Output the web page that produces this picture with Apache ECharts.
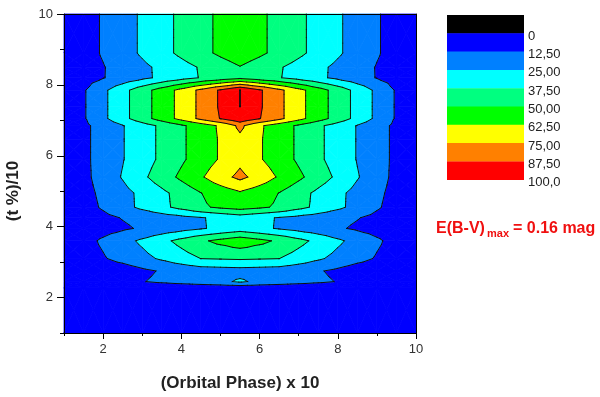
<!DOCTYPE html>
<html>
<head>
<meta charset="utf-8">
<script src="https://cdn.jsdelivr.net/npm/echarts@6/dist/echarts.min.js"></script>
<style>
  html, body { margin: 0; padding: 0; background: #fff; }
  #chart { width: 600px; height: 397px; }
</style>
</head>
<body>
<div id="chart"></div>
<script>
// grid columns: (Orbital Phase) x 10
var phase = [1, 1.5, 2, 2.5, 3, 3.5, 4, 4.5, 5, 5.5, 6, 6.5, 7, 7.5, 8, 8.5, 9, 9.5, 10];
// grid rows: (t %)/10
var tRows = [1, 2.28, 2.45, 2.75, 3.1, 3.6, 3.95, 4.25, 4.55, 4.95, 5.4, 5.9, 6.45, 6.85, 7.05, 7.4, 7.85, 8.2, 8.5, 8.9, 10];
// colour excess in % of max, one line per row of tRows, left to right along phase
var zRows = [
  [0.5, 0.5, 1, 1, 1, 1.5, 1.5, 2, 2, 2, 2, 2, 1.5, 1.5, 1, 1, 1, 0.5, 0.5],
  [1, 1.5, 2, 2.5, 3, 3.5, 4, 4.5, 4.8, 5, 4.8, 4.5, 4, 3.5, 3, 2.5, 2, 1.5, 1],
  [1, 2.5, 4.1, 7, 12, 14.7, 17.1, 19.6, 22, 27, 22, 19.6, 17.1, 14.7, 12, 7, 4.1, 2.5, 1],
  [1, 2.7, 4.3, 6, 10.1, 13.5, 16, 18.5, 19.3, 20, 19.3, 18.5, 16, 13.5, 10.1, 6, 4.3, 2.7, 1],
  [2, 6.7, 11.4, 16.4, 21.4, 26.7, 32.4, 37.6, 38.3, 39, 38.3, 37.6, 32.4, 26.7, 21.4, 16.4, 11.4, 6.7, 2],
  [2, 8.2, 14.4, 20.7, 27.2, 34.2, 41.1, 47.9, 53.3, 58, 53.3, 47.9, 41.1, 34.2, 27.2, 20.7, 14.4, 8.2, 2],
  [2, 4.9, 7.8, 10.75, 13.9, 17.25, 20.65, 24, 27.5, 31, 27.5, 24, 20.65, 17.25, 13.9, 10.75, 7.8, 4.9, 2],
  [2, 5.75, 9.5, 13.05, 15.8, 18.6, 21.4, 24.2, 27.5, 31, 27.5, 24.2, 21.4, 18.6, 15.8, 13.05, 9.5, 5.75, 2],
  [2, 7.8, 13.9, 20.8, 27.7, 34.4, 41.2, 48, 52.1, 55, 52.1, 48, 41.2, 34.4, 27.7, 20.8, 13.9, 7.8, 2],
  [2.5, 8.75, 15, 21.25, 27.8, 34.7, 42.2, 49.8, 55.5, 61, 55.5, 49.8, 42.2, 34.7, 27.8, 21.25, 15, 8.75, 2.5],
  [2.5, 9.4, 17.3, 25.9, 35, 43.8, 52.5, 61, 70.5, 78, 70.5, 61, 52.5, 43.8, 35, 25.9, 17.3, 9.4, 2.5],
  [2.5, 9.85, 17.2, 24.4, 32.1, 39.9, 48.1, 55.9, 63.7, 72, 63.7, 55.9, 48.1, 39.9, 32.1, 24.4, 17.2, 9.85, 2.5],
  [2.5, 9.85, 17.2, 24.4, 32.1, 39.9, 48.1, 55.9, 63.7, 72, 63.7, 55.9, 48.1, 39.9, 32.1, 24.4, 17.2, 9.85, 2.5],
  [2.5, 9.85, 17.2, 24.4, 32.1, 39.9, 48.1, 55.9, 64.4, 78, 64.4, 55.9, 48.1, 39.9, 32.1, 24.4, 17.2, 9.85, 2.5],
  [0.5, 11.2, 22.3, 33.6, 44.7, 55.5, 66.4, 77.9, 88, 97, 88, 77.9, 66.4, 55.5, 44.7, 33.6, 22.3, 11.2, 0.5],
  [0.5, 11.2, 22.3, 33.6, 44.7, 55.5, 66.4, 77.9, 89.1, 100.2, 89.1, 77.9, 66.4, 55.5, 44.7, 33.6, 22.3, 11.2, 0.5],
  [0.5, 11.2, 22.3, 33.6, 44.7, 55.5, 66.4, 77.9, 89.1, 100.2, 89.1, 77.9, 66.4, 55.5, 44.7, 33.6, 22.3, 11.2, 0.5],
  [3, 7.5, 12, 17, 22.3, 27.5, 33, 38.2, 42.5, 47, 42.5, 38.2, 33, 27.5, 22.3, 17, 12, 7.5, 3],
  [3, 7.4, 11.9, 17.1, 22.4, 27.7, 33.2, 38.6, 44.3, 49.5, 44.3, 38.6, 33.2, 27.7, 22.4, 17.1, 11.9, 7.4, 3],
  [2, 7.7, 13.6, 20, 26.7, 33.5, 40.1, 46.5, 52.2, 57, 52.2, 46.5, 40.1, 33.5, 26.7, 20, 13.6, 7.7, 2],
  [2, 7.7, 13.6, 20, 26.7, 33.5, 40.1, 46.5, 52.2, 57, 52.2, 46.5, 40.1, 33.5, 26.7, 20, 13.6, 7.7, 2]
];

var levels = [0, 12.5, 25, 37.5, 50, 62.5, 75, 87.5, 100];
var levelLabels = ['0', '12,50', '25,00', '37,50', '50,00', '62,50', '75,00', '87,50', '100,0'];
// band below 0, then one colour per level step
var bandColors = ['#000000', '#0000ff', '#0080ff', '#00ffff', '#00ff80', '#00ff00', '#ffff00', '#ff8000', '#ff0000'];

var majorTicks = [2, 4, 6, 8, 10];
var minorTicks = [1, 3, 5, 7, 9];

var FONT = '"Liberation Sans", Arial, sans-serif';

// one item per grid cell: x0, y0, x1, y1, v(x0,y0), v(x1,y0), v(x1,y1), v(x0,y1)
var cells = [];
for (var j = 0; j < tRows.length - 1; j++) {
  for (var i = 0; i < phase.length - 1; i++) {
    cells.push([phase[i], tRows[j], phase[i + 1], tRows[j + 1],
      zRows[j][i], zRows[j][i + 1], zRows[j + 1][i + 1], zRows[j + 1][i]]);
  }
}

function cellTriangles(api) {
  var corners = [
    { p: api.coord([api.value(0), api.value(1)]), v: api.value(4) },
    { p: api.coord([api.value(2), api.value(1)]), v: api.value(5) },
    { p: api.coord([api.value(2), api.value(3)]), v: api.value(6) },
    { p: api.coord([api.value(0), api.value(3)]), v: api.value(7) }
  ];
  var mid = {
    p: [(corners[0].p[0] + corners[2].p[0]) / 2, (corners[0].p[1] + corners[2].p[1]) / 2],
    v: (corners[0].v + corners[1].v + corners[2].v + corners[3].v) / 4
  };
  var tris = [];
  for (var k = 0; k < 4; k++) tris.push([corners[k], corners[(k + 1) % 4], mid]);
  return tris;
}

function lerp(a, b, level) {
  var t = (level - a.v) / (b.v - a.v);
  return { p: [a.p[0] + t * (b.p[0] - a.p[0]), a.p[1] + t * (b.p[1] - a.p[1])], v: level };
}

function clipPoly(poly, level, keepAbove) {
  var out = [];
  for (var k = 0; k < poly.length; k++) {
    var a = poly[k], b = poly[(k + 1) % poly.length];
    var ina = keepAbove ? a.v >= level : a.v <= level;
    var inb = keepAbove ? b.v >= level : b.v <= level;
    if (ina) out.push(a);
    if (ina !== inb) out.push(lerp(a, b, level));
  }
  return out;
}

function renderFill(params, api) {
  var children = [];
  cellTriangles(api).forEach(function (tri) {
    for (var b = 0; b < bandColors.length; b++) {
      var poly = tri;
      if (b > 0) poly = clipPoly(poly, levels[b - 1], true);
      if (b < bandColors.length - 1 && poly.length) poly = clipPoly(poly, levels[b], false);
      if (poly.length < 3) continue;
      children.push({
        type: 'polygon',
        shape: { points: poly.map(function (q) { return q.p; }) },
        style: { fill: bandColors[b], stroke: bandColors[b], lineWidth: 0.8 },
        silent: true
      });
    }
  });
  return { type: 'group', children: children };
}

function renderLines(params, api) {
  var children = [];
  cellTriangles(api).forEach(function (tri) {
    levels.forEach(function (L) {
      var pts = [];
      for (var k = 0; k < 3; k++) {
        var a = tri[k], b = tri[(k + 1) % 3];
        if ((a.v < L) !== (b.v < L)) pts.push(lerp(a, b, L).p);
      }
      if (pts.length === 2) {
        children.push({
          type: 'line',
          shape: { x1: pts[0][0], y1: pts[0][1], x2: pts[1][0], y2: pts[1][1] },
          style: { stroke: '#101010', lineWidth: 1, lineCap: 'round' },
          silent: true
        });
      }
    });
  });
  return { type: 'group', children: children };
}

// colour scale on the right
var graphic = [];
var barLeft = 447, barTop = 15, barW = 77, barH = 18.3;
bandColors.forEach(function (c, k) {
  graphic.push({ type: 'rect', shape: { x: barLeft, y: barTop + k * barH, width: barW, height: barH + 0.4 }, style: { fill: c } });
});
levelLabels.forEach(function (t, k) {
  graphic.push({
    type: 'text', x: 528, y: barTop + (k + 1) * barH + 3,
    style: { text: t, font: '13px ' + FONT, fill: '#222', verticalAlign: 'middle', align: 'left' }
  });
});
graphic.push({
  type: 'text', x: 13, y: 191, rotation: Math.PI / 2,
  style: { text: '(t %)/10', font: 'bold 17px ' + FONT, fill: '#222', align: 'center', verticalAlign: 'middle' }
});
graphic.push({ type: 'text', x: 436, y: 229, style: { text: 'E(B-V)', font: 'bold 16px ' + FONT, fill: '#f01010', verticalAlign: 'middle' } });
graphic.push({ type: 'text', x: 487, y: 234, style: { text: 'max', font: 'bold 11px ' + FONT, fill: '#f01010', verticalAlign: 'middle' } });
graphic.push({ type: 'text', x: 513, y: 229, style: { text: '= 0.16 mag', font: 'bold 16px ' + FONT, fill: '#f01010', verticalAlign: 'middle' } });

var axisLine = { show: true, lineStyle: { color: '#000', width: 1 } };
var labelStyle = { color: '#333', fontSize: 13, fontFamily: FONT };

var chart = echarts.init(document.getElementById('chart'), null, { renderer: 'canvas' });
chart.setOption({
  animation: false,
  backgroundColor: '#fff',
  grid: { left: 64, right: 184, top: 14, bottom: 61 },
  xAxis: [
    {
      type: 'value', min: 1, max: 10, z: 10,
      name: '(Orbital Phase) x 10', nameLocation: 'middle', nameGap: 42,
      nameTextStyle: { fontSize: 17, fontWeight: 'bold', color: '#222', fontFamily: FONT },
      axisLine: axisLine,
      axisTick: { show: true, length: 6, customValues: majorTicks, lineStyle: { color: '#000' } },
      axisLabel: Object.assign({ margin: 10, customValues: majorTicks }, labelStyle),
      splitLine: { show: false }
    },
    {
      type: 'value', min: 1, max: 10, z: 10, position: 'bottom',
      axisLine: { show: false },
      axisTick: { show: true, length: 3, customValues: minorTicks, lineStyle: { color: '#000' } },
      axisLabel: { show: false },
      splitLine: { show: false }
    },
    {
      type: 'value', min: 1, max: 10, z: 10, position: 'top',
      axisLine: axisLine, axisTick: { show: false }, axisLabel: { show: false }, splitLine: { show: false }
    }
  ],
  yAxis: [
    {
      type: 'value', min: 1, max: 10, z: 10,
      axisLine: axisLine,
      axisTick: { show: true, length: 7, customValues: majorTicks, lineStyle: { color: '#000' } },
      axisLabel: Object.assign({ margin: 11, customValues: majorTicks }, labelStyle),
      splitLine: { show: false }
    },
    {
      type: 'value', min: 1, max: 10, z: 10, position: 'left',
      axisLine: { show: false },
      axisTick: { show: true, length: 4, customValues: minorTicks, lineStyle: { color: '#000' } },
      axisLabel: { show: false },
      splitLine: { show: false }
    },
    {
      type: 'value', min: 1, max: 10, z: 10, position: 'right',
      axisLine: axisLine, axisTick: { show: false }, axisLabel: { show: false }, splitLine: { show: false }
    }
  ],
  graphic: graphic,
  series: [
    {
      type: 'custom', name: 'fill', renderItem: renderFill, data: cells,
      encode: { x: [0, 2], y: [1, 3] }, silent: true
    },
    {
      type: 'custom', name: 'contours', renderItem: renderLines, data: cells,
      encode: { x: [0, 2], y: [1, 3] }, silent: true, z: 3
    }
  ]
});
</script>
</body>
</html>
